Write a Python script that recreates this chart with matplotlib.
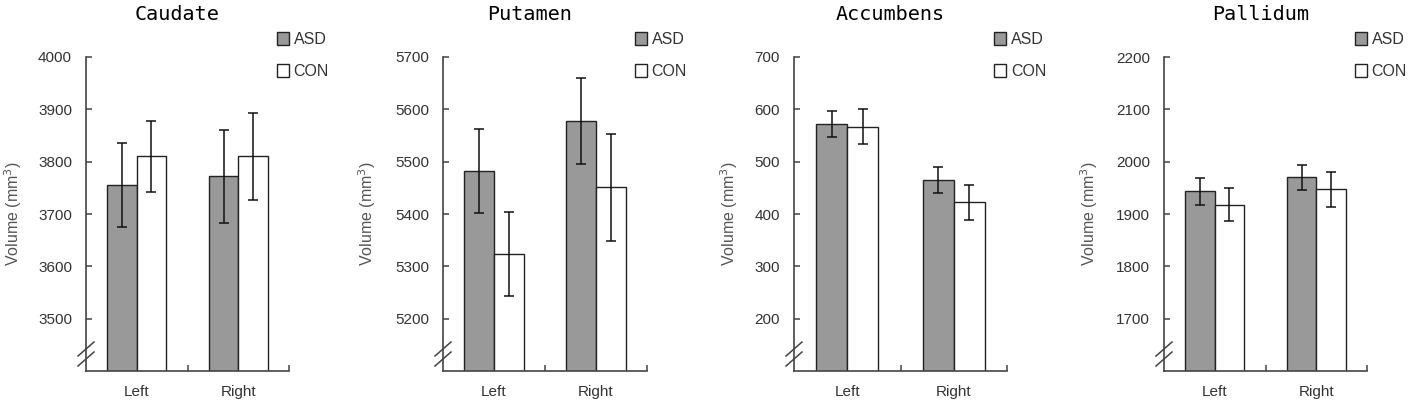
import matplotlib
matplotlib.use("Agg")
import matplotlib.pyplot as plt
import numpy as np
from matplotlib.patches import Patch

# ---------------- data ----------------
regions = ["Caudate", "Putamen", "Accumbens", "Pallidum"]
sides = ["Left", "Right"]
groups = ["ASD", "CON"]

caudate_asd = [3755, 3772]
caudate_asd_err = [80, 89]
caudate_con = [3810, 3810]
caudate_con_err = [68, 83]

putamen_asd = [5482, 5578]
putamen_asd_err = [80, 82]
putamen_con = [5323, 5451]
putamen_con_err = [80, 102]

accumbens_asd = [572, 465]
accumbens_asd_err = [25, 24]
accumbens_con = [567, 422]
accumbens_con_err = [33, 34]

pallidum_asd = [1943, 1970]
pallidum_asd_err = [26, 24]
pallidum_con = [1918, 1947]
pallidum_con_err = [32, 34]

caudate_ticks = [3500, 3600, 3700, 3800, 3900, 4000]
putamen_ticks = [5200, 5300, 5400, 5500, 5600, 5700]
accumbens_ticks = [200, 300, 400, 500, 600, 700]
pallidum_ticks = [1700, 1800, 1900, 2000, 2100, 2200]

ylims = [(3400, 4000), (5100, 5700), (100, 700), (1600, 2200)]

series = [
    (caudate_asd, caudate_asd_err, caudate_con, caudate_con_err, caudate_ticks),
    (putamen_asd, putamen_asd_err, putamen_con, putamen_con_err, putamen_ticks),
    (accumbens_asd, accumbens_asd_err, accumbens_con, accumbens_con_err, accumbens_ticks),
    (pallidum_asd, pallidum_asd_err, pallidum_con, pallidum_con_err, pallidum_ticks),
]

# ---------------- layout ----------------
W, H = 1413, 408
fig = plt.figure(figsize=(W / 100, H / 100), dpi=100)
plt.rcParams["font.family"] = ["Liberation Sans", "DejaVu Sans"]

# left px, width px ; top px, bottom px
ax_px = [(86, 203), (443, 204), (794, 213), (1164, 203)]
top_px, bot_px = 57, 371
ylabel_center = [70, 73, 62, 72]
title_shift = [10, 15, 10, 5]

asd_color = "#999999"
edge = "#222222"
axis_color = "#444444"
text_color = "#333333"

x = np.arange(len(sides))
bw = 0.29

for i, (name, (asd, asde, con, cone, ticks)) in enumerate(zip(regions, series)):
    lpx, wpx = ax_px[i]
    hpx = bot_px - top_px
    ax = fig.add_axes([lpx / W, (H - bot_px) / H, wpx / W, hpx / H])
    ax.bar(x - bw / 2, asd, bw, color=asd_color, edgecolor=edge, linewidth=1.0,
           yerr=asde, capsize=3.5, error_kw=dict(elinewidth=1.1, capthick=1.1, ecolor="#111111"),
           label=groups[0], zorder=2)
    ax.bar(x + bw / 2, con, bw, color="white", edgecolor=edge, linewidth=1.0,
           yerr=cone, capsize=3.5, error_kw=dict(elinewidth=1.1, capthick=1.1, ecolor="#111111"),
           label=groups[1], zorder=2)
    ax.set_xlim(-0.5, 1.5)
    ax.set_ylim(*ylims[i])
    ax.set_yticks(ticks)
    ax.set_yticklabels([str(t) for t in ticks])
    ax.set_xticks(x)
    ax.set_xticklabels(sides)
    ax.set_xticks([0.5, 1.5], minor=True)
    ax.tick_params(axis="x", which="major", length=0, pad=10, labelsize=11, colors=text_color)
    ax.tick_params(axis="x", which="minor", direction="in", length=4, width=1.1, color=axis_color)
    ax.tick_params(axis="y", direction="in", length=4, width=1.1, pad=10, labelsize=11,
                   colors=text_color, color=axis_color)
    for s in ["top", "right"]:
        ax.spines[s].set_visible(False)
    for s in ["left", "bottom"]:
        ax.spines[s].set_color(axis_color)
        ax.spines[s].set_linewidth(1.2)
    ax.set_ylabel("Volume (mm$^3$)", fontsize=11.5, color="#555555")
    ax.yaxis.set_label_coords(-(ylabel_center[i] - 8) / wpx, 0.5)

    # title
    ax.text(0.5 - title_shift[i] / wpx, 1 + (top_px - 15) / hpx, name,
            transform=ax.transAxes, ha="center", va="center",
            fontsize=14.5, family="DejaVu Sans Mono", color="black")

    # axis break marks
    dx = 8 / wpx
    for yc in (12 / hpx, 22 / hpx):
        dy = 7 / hpx
        ax.plot([-dx, dx], [yc - dy, yc + dy], transform=ax.transAxes,
                color=axis_color, lw=1.1, clip_on=False)

    # legend
    handles = [Patch(facecolor=asd_color, edgecolor=edge, label=groups[0]),
               Patch(facecolor="white", edgecolor=edge, label=groups[1])]
    leg = ax.legend(handles=handles, loc="upper left",
                    bbox_to_anchor=(0.94, 1 + (top_px - 32) / hpx),
                    frameon=False, fontsize=11.5, handlelength=0.75, handleheight=0.85,
                    handletextpad=0.3, labelspacing=1.05, borderaxespad=0, borderpad=0)
    for t in leg.get_texts():
        t.set_color(text_color)

fig.savefig("out.png", dpi=100)
